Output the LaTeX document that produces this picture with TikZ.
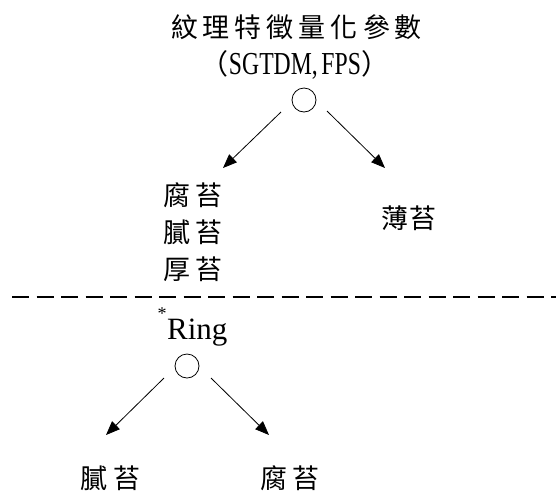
\documentclass[tikz,border=0pt]{standalone}
\usepackage{fontspec}
\setmainfont{Liberation Serif}
\newfontfamily\cjk{Noto Sans CJK TC}
\newcommand\tsp{\hspace{5pt}}
\usetikzlibrary{arrows.meta}
\tikzset{
  titletext/.style={font=\cjk\fontsize{27}{30}\selectfont, anchor=base, inner sep=0pt},
  subtitle/.style={font=\fontsize{32}{36}\selectfont, anchor=base, inner sep=0pt},
  lab/.style={font=\cjk\fontsize{27}{30}\selectfont, anchor=base, inner sep=0pt},
  arr/.style={-{Triangle[length=14pt,width=11pt]}, line width=0.8pt},
  knot/.style={circle, draw, line width=0.8pt, minimum size=24pt, inner sep=0pt},
  sepline/.style={dash pattern=on 17pt off 7.5pt, line width=2pt}
}
\begin{document}
\begin{tikzpicture}[x=1pt,y=-1pt]
\useasboundingbox (0,0) rectangle (556,491);
% top part
\node[titletext] (title) at (296.5,37) {紋\tsp 理\tsp 特\tsp 徵\tsp 量\tsp 化\tsp 參\tsp 數};
\node[subtitle] (sub) at (295,74) {{\cjk\fontsize{28}{30}\selectfont （}\scalebox{0.74}[1]{SGTDM,\kern5pt FPS}{\cjk\fontsize{28}{30}\selectfont ）}};
\node[knot] (c1) at (304,100) {};
\coordinate (a1s) at (281,112);
\coordinate (a1e) at (223,168);
\coordinate (a2s) at (327,111);
\coordinate (a2e) at (385,168);
\draw[arr] (a1s) -- (a1e);
\draw[arr] (a2s) -- (a2e);
\node[lab] (l1) at (193,205) {腐\hspace{5pt}苔};
\node[lab] (l2) at (193,242) {膩\hspace{5pt}苔};
\node[lab] (l3) at (193,279) {厚\hspace{5pt}苔};
\node[lab] (r1) at (409,228) {薄\hspace{1pt}苔};
% separator
\coordinate (dl) at (12,297);
\coordinate (dr) at (556,297);
\draw[sepline] (dl) -- (dr);
% bottom part
\node[anchor=base, font=\fontsize{18}{18}\selectfont, inner sep=0pt] (star) at (162,319) {*};
\node[anchor=base west, font=\fontsize{31}{36}\selectfont, inner sep=0pt] (ring) at (167,339) {Ring};
\node[knot] (c2) at (187,366) {};
\coordinate (b1s) at (164,378);
\coordinate (b1e) at (106,435);
\coordinate (b2s) at (211,378);
\coordinate (b2e) at (269,435);
\draw[arr] (b1s) -- (b1e);
\draw[arr] (b2s) -- (b2e);
\node[lab] (bl) at (110.5,488) {膩\hspace{6pt}苔};
\node[lab] (br) at (290,488) {腐\hspace{4.5pt}苔};
\end{tikzpicture}
\end{document}
